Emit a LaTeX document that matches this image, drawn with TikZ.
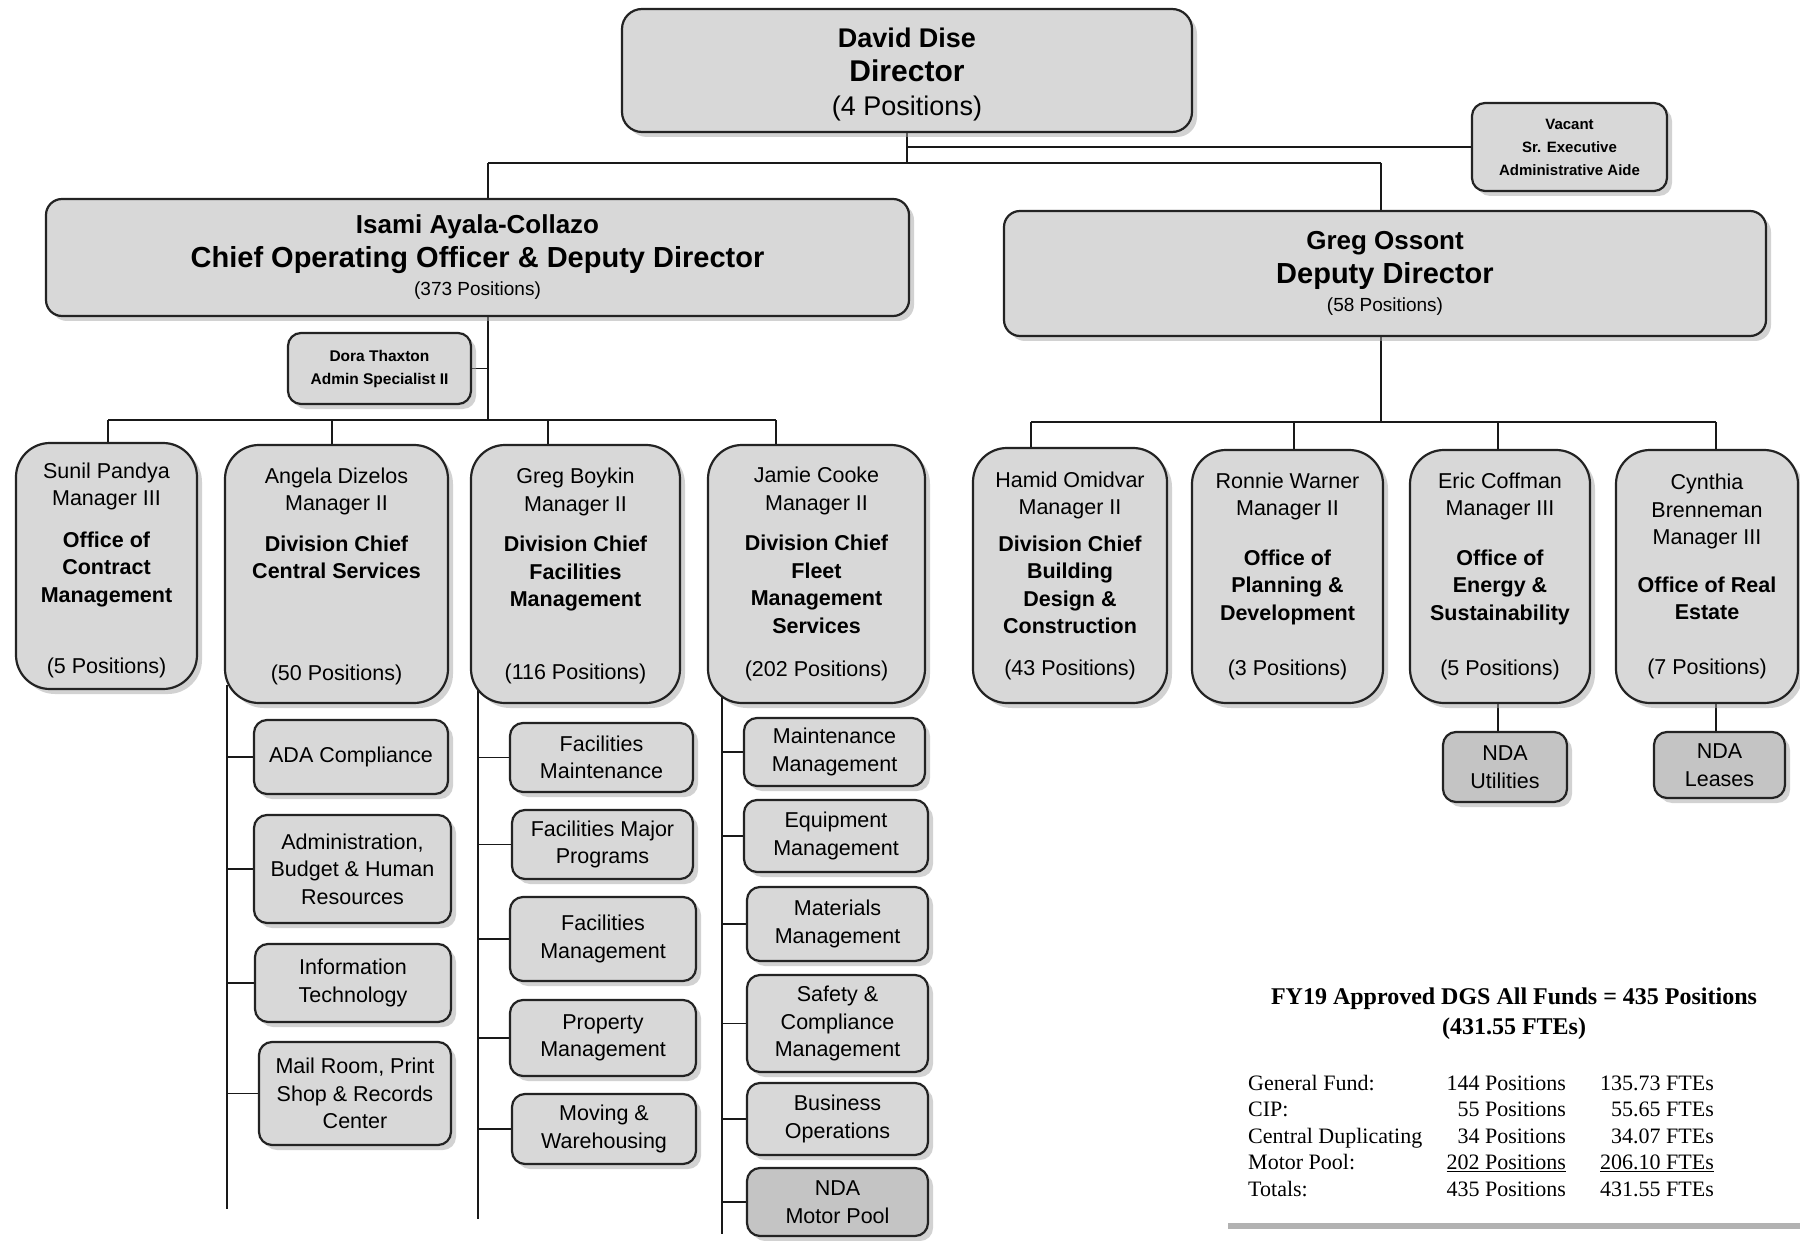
\documentclass[tikz,border=0pt]{standalone}
\usepackage{fontspec}
\setmainfont{Liberation Sans}
\newfontfamily\tabfont{Liberation Serif}
\usetikzlibrary{shadows,backgrounds}
\definecolor{boxgray}{RGB}{216,216,216}
\definecolor{ndagray}{RGB}{196,196,196}
\definecolor{edgecol}{RGB}{35,35,35}
\begin{document}
\begin{tikzpicture}[x=1pt,y=-1pt,
  box/.style={draw=edgecol,line width=2.2pt,fill=boxgray,rounded corners=13pt,align=center,inner sep=0pt,
     drop shadow={shadow xshift=5pt,shadow yshift=-5pt,fill=black!35}},
  tall/.style={box,rounded corners=34pt,font=\fontsize{21.5}{27.5}\selectfont},
  sub/.style={box,font=\fontsize{21.5}{27.5}\selectfont},
  nda/.style={sub,fill=ndagray},
  conn/.style={draw=black!90,line width=1.8pt},
  tcell/.style={font=\tabfont\fontsize{22}{26}\selectfont,inner sep=0pt},
]
\useasboundingbox (0,0) rectangle (1800,1241);
\begin{pgfonlayer}{background}
\fill[white] (0,0) rectangle (1800,1241);
\end{pgfonlayer}

% ---- top level
\node[box,rounded corners=20pt,minimum width=570pt,minimum height=123pt,font=\fontsize{27}{34}\selectfont] (dir) at (907,70.5)
  {\rule{0pt}{27pt}\textbf{David Dise}\\{\fontsize{30}{34}\selectfont\textbf{Director}}\\(4 Positions)};
\node[box,minimum width=195pt,minimum height=88pt,font=\fontsize{15}{23}\selectfont\bfseries] (vac) at (1569.5,147)
  {Vacant\\Sr. Executive\\Administrative Aide};
\node[box,rounded corners=16pt,minimum width=863pt,minimum height=117pt,font=\fontsize{19}{28}\selectfont] (coo) at (477.5,257.5)
  {{\fontsize{26}{28}\selectfont\bfseries Isami Ayala-Collazo}\\[6pt]{\fontsize{29}{28}\selectfont\bfseries Chief Operating Officer \& Deputy Director}\\(373 Positions)};
\node[box,rounded corners=16pt,minimum width=762pt,minimum height=125pt,font=\fontsize{19}{28}\selectfont] (gos) at (1385,273.5)
  {{\fontsize{26}{28}\selectfont\bfseries Greg Ossont}\\[6pt]{\fontsize{29}{28}\selectfont\bfseries Deputy Director}\\(58 Positions)};
\node[box,minimum width=183pt,minimum height=71pt,font=\fontsize{15.5}{23}\selectfont\bfseries] (dora) at (379.5,368.5)
  {Dora Thaxton\\Admin Specialist II};

% ---- level 2 left
\node[tall,minimum width=181pt,minimum height=246pt] (sunil) at (106.5,566)
  {\rule{0pt}{24pt}Sunil Pandya\\Manager III\\[14pt]\textbf{Office of}\\\textbf{Contract}\\\textbf{Management}\\[44pt](5 Positions)};
\node[tall,minimum width=223pt,minimum height=258pt] (ang) at (336.5,574)
  {\rule{0pt}{20pt}Angela Dizelos\\Manager II\\[13pt]\textbf{Division Chief}\\\textbf{Central Services}\\[74pt](50 Positions)};
\node[tall,minimum width=209pt,minimum height=258pt] (boy) at (575.5,574)
  {\rule{0pt}{19pt}Greg Boykin\\Manager II\\[13pt]\textbf{Division Chief}\\\textbf{Facilities}\\\textbf{Management}\\[45pt](116 Positions)};
\node[tall,minimum width=217pt,minimum height=258pt] (jam) at (816.5,574)
  {Jamie Cooke\\Manager II\\[13pt]\textbf{Division Chief}\\\textbf{Fleet}\\\textbf{Management}\\\textbf{Services}\\[16pt](202 Positions)};

% ---- level 2 right
\node[tall,minimum width=194pt,minimum height=255pt] (ham) at (1070,575.5)
  {Hamid Omidvar\\Manager II\\[9pt]\textbf{Division Chief}\\\textbf{Building}\\\textbf{Design \&}\\\textbf{Construction}\\[14pt](43 Positions)};
\node[tall,minimum width=191pt,minimum height=253pt] (ron) at (1287.5,576.5)
  {Ronnie Warner\\Manager II\\[22pt]\textbf{Office of}\\\textbf{Planning \&}\\\textbf{Development}\\[28pt](3 Positions)};
\node[tall,minimum width=180pt,minimum height=253pt] (eric) at (1500,576.5)
  {Eric Coffman\\Manager III\\[22pt]\textbf{Office of}\\\textbf{Energy \&}\\\textbf{Sustainability}\\[28pt](5 Positions)};
\node[tall,minimum width=182pt,minimum height=253pt] (cyn) at (1707,576.5)
  {Cynthia\\Brenneman\\Manager III\\[20pt]\textbf{Office of Real}\\\textbf{Estate}\\[27pt](7 Positions)};

\node[nda,minimum width=124pt,minimum height=70pt] (ndau) at (1505,767) {NDA\\Utilities};
\node[nda,minimum width=131pt,minimum height=66pt] (ndal) at (1719.5,765) {NDA\\Leases};

% ---- Central Services units
\node[sub,minimum width=194pt,minimum height=74pt] (ada) at (351,757) {ADA Compliance};
\node[sub,minimum width=197pt,minimum height=108pt] (abhr) at (352.5,869) {Administration,\\Budget \& Human\\Resources};
\node[sub,minimum width=196pt,minimum height=78pt] (it) at (353,983) {Information\\Technology};
\node[sub,minimum width=192pt,minimum height=103pt] (mail) at (355,1093.5) {Mail Room, Print\\Shop \& Records\\Center};

% ---- Facilities units
\node[sub,minimum width=183pt,minimum height=69pt] (fm) at (601.5,757.5) {Facilities\\Maintenance};
\node[sub,minimum width=181pt,minimum height=69pt] (fmp) at (602.5,844.5) {Facilities Major\\Programs};
\node[sub,minimum width=186pt,minimum height=84pt] (fmg) at (603,939) {Facilities\\Management};
\node[sub,minimum width=186pt,minimum height=76pt] (prop) at (603,1038) {Property\\Management};
\node[sub,minimum width=184pt,minimum height=70pt] (mov) at (604,1129) {Moving \&\\Warehousing};

% ---- Fleet units
\node[sub,minimum width=181pt,minimum height=68pt] (mm) at (834.5,752) {Maintenance\\Management};
\node[sub,minimum width=184pt,minimum height=72pt] (em) at (836,836) {Equipment\\Management};
\node[sub,minimum width=181pt,minimum height=74pt] (matm) at (837.5,924) {Materials\\Management};
\node[sub,minimum width=181pt,minimum height=97pt] (scm) at (837.5,1023.5) {Safety \&\\Compliance\\Management};
\node[sub,minimum width=181pt,minimum height=72pt] (bo) at (837.5,1119) {Business\\Operations};
\node[nda,minimum width=181pt,minimum height=68pt] (ndam) at (837.5,1202) {NDA\\Motor Pool};

% ---- connector coordinates
\coordinate (dj) at (907,163);
\coordinate (dv) at (907,147);
\coordinate (cl) at (488,163);
\coordinate (cr) at (1381,163);
\coordinate (cb) at (488,420);
\coordinate (lb1) at (108,420);
\coordinate (lb2) at (332,420);
\coordinate (lb3) at (548,420);
\coordinate (lb4) at (776,420);
\coordinate (rb) at (1381,422);
\coordinate (rb1) at (1031,422);
\coordinate (rb2) at (1294,422);
\coordinate (rb3) at (1498,422);
\coordinate (rb4) at (1716,422);
\coordinate (acol) at (227,685);
\coordinate (aend) at (227,1209);
\coordinate (bcol) at (478,685);
\coordinate (bend) at (478,1219);
\coordinate (jcol) at (722,685);
\coordinate (jend) at (722,1234);
\coordinate (ucol) at (1498,700);
\coordinate (lcol) at (1716,700);

\begin{pgfonlayer}{background}
\draw[conn] (dir) -- (dj);
\draw[conn] (dv) -- (vac.west);
\draw[conn] (cl) -- (cr);
\draw[conn] (cl) -- (cl |- coo.north);
\draw[conn] (cr) -- (cr |- gos.north);
\draw[conn] (cl |- coo.south) -- (cb);
\draw[conn] (dora.east) -- (dora.east -| cb);
\draw[conn] (lb1) -- (lb4);
\draw[conn] (lb1) -- (lb1 |- sunil.north);
\draw[conn] (lb2) -- (lb2 |- ang.north);
\draw[conn] (lb3) -- (lb3 |- boy.north);
\draw[conn] (lb4) -- (lb4 |- jam.north);
\draw[conn] (rb |- gos.south) -- (rb);
\draw[conn] (rb1) -- (rb4);
\draw[conn] (rb1) -- (rb1 |- ham.north);
\draw[conn] (rb2) -- (rb2 |- ron.north);
\draw[conn] (rb3) -- (rb3 |- eric.north);
\draw[conn] (rb4) -- (rb4 |- cyn.north);
\draw[conn] (ucol) -- (ucol |- ndau.north);
\draw[conn] (lcol) -- (lcol |- ndal.north);
\draw[conn] (acol) -- (aend);
\foreach \n in {ada,abhr,it,mail} \draw[conn] (\n.west) -- (\n.west -| acol);
\draw[conn] (bcol) -- (bend);
\foreach \n in {fm,fmp,fmg,prop,mov} \draw[conn] (\n.west) -- (\n.west -| bcol);
\draw[conn] (jcol) -- (jend);
\foreach \n in {mm,em,matm,scm,bo,ndam} \draw[conn] (\n.west) -- (\n.west -| jcol);
\end{pgfonlayer}

% ---- summary table
\node[font=\tabfont\bfseries\fontsize{24}{30}\selectfont,align=center,inner sep=0pt] (ttl) at (1514,1014)
  {FY19 Approved DGS All Funds = 435 Positions\\(431.55 FTEs)};
\node[tcell,anchor=base west] (l1) at (1248,1090) {General Fund:};
\node[tcell,anchor=base west] (l2) at (1248,1116.5) {CIP:};
\node[tcell,anchor=base west] (l3) at (1248,1143) {Central Duplicating};
\node[tcell,anchor=base west] (l4) at (1248,1169.5) {Motor Pool:};
\node[tcell,anchor=base west] (l5) at (1248,1196) {Totals:};
\node[tcell,anchor=base east] (p1) at (1566,1090) {144 Positions};
\node[tcell,anchor=base east] (p2) at (1566,1116.5) {55 Positions};
\node[tcell,anchor=base east] (p3) at (1566,1143) {34 Positions};
\node[tcell,anchor=base east] (p4) at (1566,1169.5) {\underline{202 Positions}};
\node[tcell,anchor=base east] (p5) at (1566,1196) {435 Positions};
\node[tcell,anchor=base east] (f1) at (1714,1090) {135.73 FTEs};
\node[tcell,anchor=base east] (f2) at (1714,1116.5) {55.65 FTEs};
\node[tcell,anchor=base east] (f3) at (1714,1143) {34.07 FTEs};
\node[tcell,anchor=base east] (f4) at (1714,1169.5) {\underline{206.10 FTEs}};
\node[tcell,anchor=base east] (f5) at (1714,1196) {431.55 FTEs};
\fill[black!30] (1228,1223) rectangle (1800,1229);
\end{tikzpicture}
\end{document}
